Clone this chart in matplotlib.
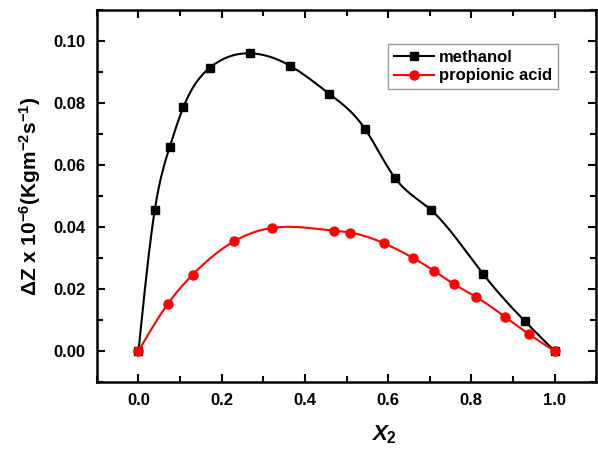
import numpy as np
import matplotlib
matplotlib.use("Agg")
import matplotlib.pyplot as plt
from matplotlib.ticker import MultipleLocator

plt.rcParams['font.family'] = ['Liberation Sans', 'DejaVu Sans']
plt.rcParams['font.weight'] = 'bold'
plt.rcParams['axes.labelweight'] = 'bold'
plt.rcParams['mathtext.fontset'] = 'custom'
plt.rcParams['mathtext.rm'] = 'Liberation Sans:bold'
plt.rcParams['mathtext.it'] = 'Liberation Sans:bold:italic'
plt.rcParams['mathtext.bf'] = 'Liberation Sans:bold'
plt.rcParams['mathtext.default'] = 'rm'

# data
x_meth = [0.0, 0.039, 0.075, 0.108, 0.172, 0.267, 0.364, 0.459, 0.545, 0.616, 0.702, 0.829, 0.928, 1.0]
y_meth = [0.0, 0.0454, 0.0658, 0.0787, 0.0914, 0.0960, 0.0920, 0.0829, 0.0715, 0.0559, 0.0456, 0.0247, 0.0097, 0.0]

x_prop = [0.0, 0.070, 0.130, 0.230, 0.321, 0.470, 0.509, 0.591, 0.660, 0.711, 0.759, 0.812, 0.880, 0.939, 1.0]
y_prop = [0.0, 0.0151, 0.0246, 0.0354, 0.0397, 0.0388, 0.0382, 0.0347, 0.0300, 0.0258, 0.0215, 0.0174, 0.0111, 0.0054, 0.0]


def spline(xs, ys, n=400):
    # natural cubic spline through the points
    x = np.array(xs, float)
    y = np.array(ys, float)
    m = len(x)
    h = np.diff(x)
    A = np.zeros((m, m))
    b = np.zeros(m)
    A[0, 0] = A[-1, -1] = 1
    for i in range(1, m - 1):
        A[i, i - 1] = h[i - 1]
        A[i, i] = 2 * (h[i - 1] + h[i])
        A[i, i + 1] = h[i]
        b[i] = 3 * ((y[i + 1] - y[i]) / h[i] - (y[i] - y[i - 1]) / h[i - 1])
    c = np.linalg.solve(A, b)
    xf = np.linspace(x[0], x[-1], n)
    k = np.clip(np.searchsorted(x, xf) - 1, 0, m - 2)
    dx = xf - x[k]
    bb = (y[k + 1] - y[k]) / h[k] - h[k] * (2 * c[k] + c[k + 1]) / 3
    dd = (c[k + 1] - c[k]) / (3 * h[k])
    return xf, y[k] + bb * dx + c[k] * dx ** 2 + dd * dx ** 3


fig = plt.figure(figsize=(5.98, 4.5), dpi=100)
ax = fig.add_axes([0.162, 0.151, 0.835, 0.827])

xf, yf = spline(x_meth, y_meth)
ax.plot(xf, yf, color='black', lw=1.5)
ax.plot(x_meth, y_meth, 's', color='black', ms=6)
xf, yf = spline(x_prop, y_prop)
ax.plot(xf, yf, color='red', lw=1.5)
ax.plot(x_prop, y_prop, 'o', color='red', ms=6.5)

# legend handles
ax.plot([], [], '-s', color='black', ms=6, lw=1.5, label='methanol')
ax.plot([], [], '-o', color='red', ms=6.5, lw=1.5, label='propionic acid')
leg = ax.legend(loc='upper right', bbox_to_anchor=(0.94, 0.93),
                frameon=True, fancybox=False, handlelength=2.4, handletextpad=0.3,
                borderpad=0.35, labelspacing=0.2, prop={'weight': 'bold', 'size': 12})
leg.get_frame().set_edgecolor('gray')
leg.get_frame().set_linewidth(1.0)

ax.set_xlim(-0.1, 1.1)
ax.set_ylim(-0.01, 0.11)
ax.xaxis.set_minor_locator(MultipleLocator(0.1))
ax.yaxis.set_minor_locator(MultipleLocator(0.01))
ax.set_xticks([0.0, 0.2, 0.4, 0.6, 0.8, 1.0])
ax.set_yticks([0.0, 0.02, 0.04, 0.06, 0.08, 0.10])
ax.tick_params(which='both', direction='in', top=True, right=True, width=1.5)
ax.tick_params(which='major', length=6, labelsize=12, pad=8)
ax.tick_params(which='minor', length=4)
for s in ax.spines.values():
    s.set_linewidth(1.8)

ax.set_ylabel(r'$\Delta$Z x 10$^{-6}$(Kgm$^{-2}$s$^{-1}$)', fontsize=15,
              fontweight='bold', labelpad=8)
ax.text(0.575, -0.11, r'$\mathit{X}_2$', transform=ax.transAxes, fontsize=16,
        ha='center', va='top')

fig.savefig('out.png', dpi=100)
